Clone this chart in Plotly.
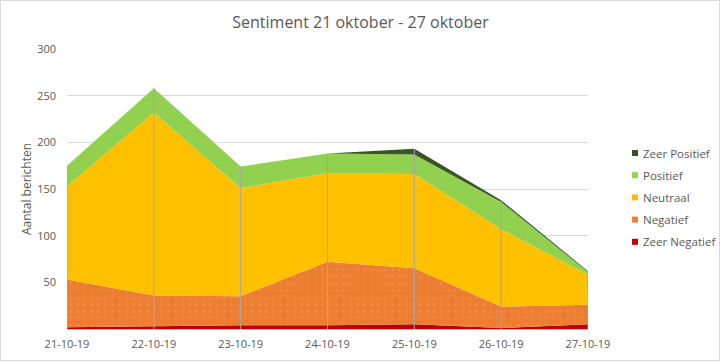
import plotly.graph_objects as go

dates = ["21-10-19", "22-10-19", "23-10-19", "24-10-19", "25-10-19", "26-10-19", "27-10-19"]
zeer_negatief = [2, 3, 4, 4, 5, 1, 5]
negatief = [51, 33, 31, 68, 60, 23, 21]
neutraal = [100, 196, 116, 95, 101, 83, 32]
positief = [22, 26, 23, 21, 21, 29, 3]
zeer_positief = [0, 0, 0, 0, 6, 2, 1]

series = [
    ("Zeer Negatief", zeer_negatief, "#C00000"),
    ("Negatief", negatief, "#ED7D31"),
    ("Neutraal", neutraal, "#FFC000"),
    ("Positief", positief, "#92D050"),
    ("Zeer Positief", zeer_positief, "#375623"),
]

W, H = 721, 362
ML, MR, MT, MB = 67, 133, 49, 33
PW, PH = W - ML - MR, H - MT - MB


def px_x(px):
    return (px - ML) / PW


def px_y(py):
    return (H - MB - py) / PH


fig = go.Figure()
for name, vals, col in series:
    kw = {}
    if name == "Negatief":
        kw["fillpattern"] = dict(shape=".", bgcolor=col, fgcolor="#F29B5E", size=7, solidity=0.1)
    fig.add_trace(go.Scatter(
        x=dates, y=vals, name=name, stackgroup="one", mode="lines",
        line=dict(width=0, color=col), fillcolor=col, showlegend=False, **kw,
    ))

totals = [sum(v) for v in zip(*[s[1] for s in series])]
dx, dy = [], []
for d, t in zip(dates, totals):
    dx += [d, d, None]
    dy += [0, t, None]
fig.add_trace(go.Scatter(x=dx, y=dy, mode="lines", line=dict(color="#A6A6A6", width=1),
                         showlegend=False, hoverinfo="skip", cliponaxis=False))

# legend (drawn manually to match Excel-style compact squares)
shapes = [dict(type="rect", xref="paper", yref="paper",
               x0=px_x(0.5), x1=px_x(W - 1.5), y0=px_y(H - 1.5), y1=px_y(0.5),
               line=dict(color="#D9D9D9", width=1), layer="below")]
annotations = []
legend_y0, legend_step = 153, 22.2
for k, (name, vals, col) in enumerate(reversed(series)):
    cy = legend_y0 + k * legend_step
    shapes.append(dict(type="rect", xref="paper", yref="paper",
                       x0=px_x(632), x1=px_x(638), y0=px_y(cy + 3), y1=px_y(cy - 3),
                       fillcolor=col, line=dict(width=0)))
    annotations.append(dict(text=name, xref="paper", yref="paper", x=px_x(641), y=px_y(cy),
                            xanchor="left", yanchor="middle", showarrow=False,
                            font=dict(size=11.5, color="#595959")))

font = "Open Sans, Liberation Sans, sans-serif"
fig.update_layout(
    width=W, height=H,
    margin=dict(l=ML, r=MR, t=MT, b=MB, autoexpand=False),
    paper_bgcolor="white", plot_bgcolor="white",
    font=dict(family=font, size=11, color="#595959"),
    showlegend=False,
    title=dict(text="Sentiment 21 oktober - 27 oktober", x=0.5, xanchor="center",
               y=1 - 22 / H, yanchor="middle", font=dict(size=16, color="#595959")),
    xaxis=dict(type="category", range=[0, 6], showgrid=False, showline=True, automargin=False,
               linecolor="#BFBFBF", linewidth=1, ticks="", ticklabelstandoff=5,
               tickfont=dict(size=11, color="#595959")),
    yaxis=dict(range=[0, 300], tickvals=[50, 100, 150, 200, 250, 300], showgrid=True, automargin=False,
               gridcolor="#D9D9D9", gridwidth=1, zeroline=False, showline=False, ticks="",
               ticklabelstandoff=10,
               title=dict(text="Aantal berichten", standoff=2, font=dict(size=12, color="#595959")),
               tickfont=dict(size=11, color="#595959")),
    shapes=shapes,
    annotations=annotations,
)

fig.write_html("out.html", post_script="document.body.style.margin='0';",
               config={"displayModeBar": False})
